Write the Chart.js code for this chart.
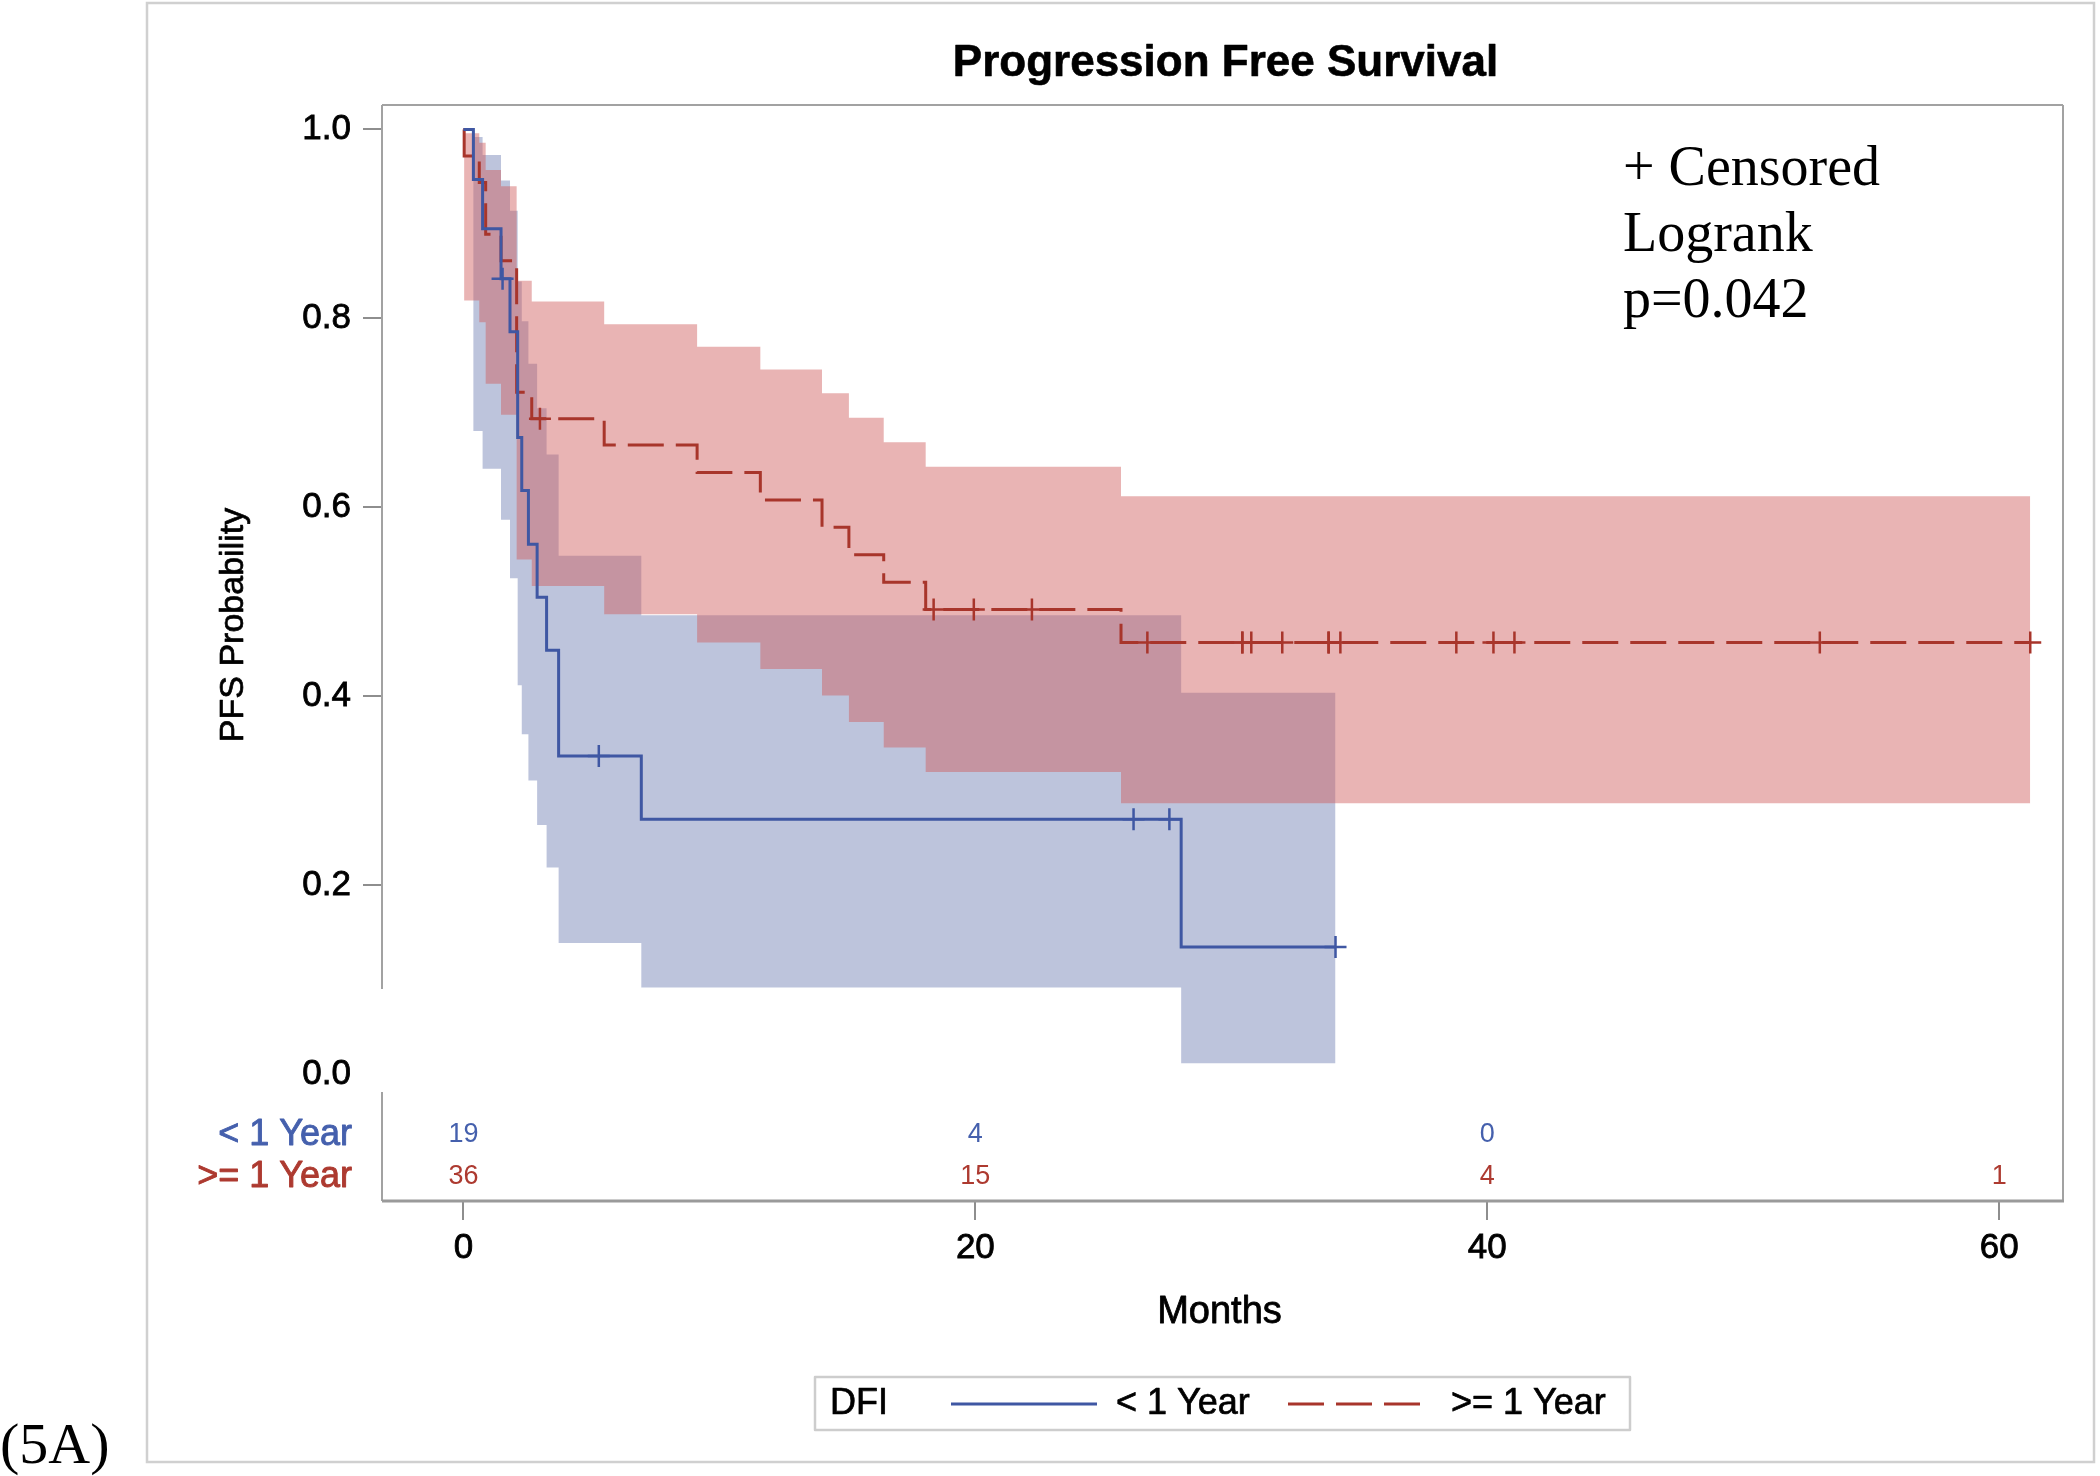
<!DOCTYPE html>
<html>
<head>
<meta charset="utf-8">
<script src="https://cdn.jsdelivr.net/npm/chart.js@4.4.1/dist/chart.umd.min.js"></script>
<style>
  html, body { margin: 0; padding: 0; background: #ffffff; }
  canvas { display: block; }
</style>
</head>
<body>
<canvas id="c" width="2100" height="1476"></canvas>
<script>
// ---------------- data ----------------
const chartTitle = 'Progression Free Survival';
const xTitle = 'Months';
const yTitle = 'PFS Probability';
const legendTitle = 'DFI';
const groups = ['< 1 Year', '>= 1 Year'];
const xTicks = [0, 20, 40, 60];
const yTicks = [0, 0.2, 0.4, 0.6, 0.8, 1.0];
const noteLines = ['+ Censored', 'Logrank', 'p=0.042'];
const panelTag = '(5A)';

// DFI < 1 Year : Kaplan-Meier steps and confidence band
const lt1Time  = [0, 0.39, 0.75, 1.47, 1.82, 2.12, 2.28, 2.54, 2.88, 3.25, 3.72, 6.95, 28.04, 34.07];
const lt1Surv  = [1, 0.947, 0.895, 0.842, 0.786, 0.674, 0.618, 0.561, 0.505, 0.449, 0.337, 0.270, 0.135, 0.135];
const lt1Upper = [1, 0.992, 0.973, 0.946, 0.914, 0.839, 0.797, 0.752, 0.705, 0.656, 0.549, 0.486, 0.404, 0.404];
const lt1Lower = [1, 0.681, 0.641, 0.587, 0.525, 0.412, 0.360, 0.311, 0.264, 0.219, 0.139, 0.092, 0.012, 0.012];
const lt1CensorTime = [1.53, 5.29, 26.18, 27.58, 34.07];
const lt1CensorSurv = [0.842, 0.337, 0.270, 0.270, 0.135];

// DFI >= 1 Year
const ge1Time  = [0, 0.03, 0.62, 0.87, 1.47, 2.08, 2.67, 5.50, 9.13, 11.60, 14.01, 15.06, 16.42, 18.06, 25.69, 61.21];
const ge1Surv  = [1, 0.972, 0.944, 0.889, 0.861, 0.722, 0.694, 0.666, 0.637, 0.608, 0.579, 0.550, 0.521, 0.492, 0.457, 0.457];
const ge1Upper = [1, 0.996, 0.986, 0.957, 0.940, 0.840, 0.818, 0.794, 0.770, 0.746, 0.721, 0.695, 0.669, 0.643, 0.612, 0.612];
const ge1Lower = [1, 0.819, 0.796, 0.731, 0.698, 0.545, 0.517, 0.487, 0.457, 0.429, 0.401, 0.373, 0.346, 0.320, 0.287, 0.287];
const ge1CensorTime = [2.99, 18.37, 19.94, 22.21, 26.72, 30.43, 30.43, 30.78, 31.99, 33.80, 33.80, 34.26, 38.79, 40.24, 41.06, 52.99, 61.21];
const ge1CensorSurv = [0.694, 0.492, 0.492, 0.492, 0.457, 0.457, 0.457, 0.457, 0.457, 0.457, 0.457, 0.457, 0.457, 0.457, 0.457, 0.457, 0.457];

// Number at risk
const riskTimes = [0, 20, 40, 60];
const riskLt1 = [19, 4, 0, null];
const riskGe1 = [36, 15, 4, 1];

// ---------------- styles ----------------
const SANS = '"Liberation Sans", Arial, sans-serif';
const SERIF = '"Liberation Serif", "Times New Roman", serif';
const BLUE = '#3f57a3';
const RED = '#a8352b';
const BLUE_TXT = '#4560ad';
const RED_TXT = '#ad3a30';
const BLUE_FILL = 'rgba(111,126,179,0.46)';
const RED_FILL = 'rgba(208,91,91,0.46)';
const AXIS_GRAY = '#8e8e8e';
const RED_DASH = [36, 12];

const pts = (ts, vs) => ts.map((t, i) => ({ x: t, y: vs[i] }));

const X_MIN = -3.18, X_MAX = 62.49;
const Y_MIN = -0.1339, Y_MAX = 1.0259;

// text with a slight stroke to match the heavier rendering of the original
function heavyText(ctx, s, x, y, color, w) {
  ctx.fillStyle = color;
  ctx.fillText(s, x, y);
  ctx.strokeStyle = color;
  ctx.lineWidth = w;
  ctx.lineJoin = 'round';
  ctx.strokeText(s, x, y);
}

const decor = {
  id: 'decor',
  afterDraw(chart) {
    const { ctx, chartArea: a, scales: { x, y } } = chart;
    ctx.save();
    // outer frame
    ctx.strokeStyle = '#d0d0d0';
    ctx.lineWidth = 2.5;
    ctx.strokeRect(147, 3, 2094 - 147, 1462 - 3);

    // plot frame (y axis line has a gap above the at-risk table)
    ctx.strokeStyle = '#a2a2a2';
    ctx.lineWidth = 2;
    ctx.beginPath();
    ctx.moveTo(a.left, a.top); ctx.lineTo(a.right, a.top);
    ctx.moveTo(a.right, a.top); ctx.lineTo(a.right, a.bottom);
    ctx.moveTo(a.left, a.top); ctx.lineTo(a.left, a.bottom - 212);
    ctx.moveTo(a.left, a.bottom - 109); ctx.lineTo(a.left, a.bottom);
    ctx.stroke();
    ctx.strokeStyle = '#9a9a9a';
    ctx.lineWidth = 3;
    ctx.beginPath();
    ctx.moveTo(a.left, a.bottom); ctx.lineTo(a.right + 1, a.bottom);
    ctx.stroke();

    // title
    ctx.textAlign = 'center';
    ctx.textBaseline = 'alphabetic';
    ctx.font = 'bold 44px ' + SANS;
    heavyText(ctx, chartTitle, (a.left + a.right) / 2 + 3, 76, '#000', 0.6);

    // axis titles
    ctx.font = '38px ' + SANS;
    ctx.textBaseline = 'middle';
    heavyText(ctx, xTitle, (a.left + a.right) / 2 - 3, 1313, '#000', 0.8);
    ctx.save();
    ctx.translate(234, 625);
    ctx.rotate(-Math.PI / 2);
    ctx.font = '34px ' + SANS;
    heavyText(ctx, yTitle, 0, 0, '#000', 0.7);
    ctx.restore();

    // at-risk table
    const rowY = [a.bottom - 66, a.bottom - 24];
    const rowVals = [riskLt1, riskGe1];
    const rowCol = [BLUE_TXT, RED_TXT];
    for (let r = 0; r < 2; r++) {
      ctx.font = '36px ' + SANS;
      ctx.textAlign = 'right';
      heavyText(ctx, groups[r], a.left - 30, rowY[r], rowCol[r], 0.9);
      ctx.font = '27px ' + SANS;
      ctx.textAlign = 'center';
      ctx.fillStyle = rowCol[r];
      riskTimes.forEach((t, i) => {
        const v = rowVals[r][i];
        if (v !== null && v !== undefined) ctx.fillText(String(v), x.getPixelForValue(t), rowY[r]);
      });
    }

    // annotation
    ctx.fillStyle = '#000';
    ctx.font = '56px ' + SERIF;
    ctx.textAlign = 'left';
    ctx.textBaseline = 'alphabetic';
    noteLines.forEach((s, i) => ctx.fillText(s, 1623, 185 + i * 66));

    // panel tag
    ctx.font = '58px ' + SERIF;
    ctx.fillText(panelTag, 0, 1463);

    // legend
    ctx.strokeStyle = '#cdcdcd';
    ctx.lineWidth = 2.5;
    ctx.strokeRect(815, 1377, 815, 53);
    const ly = 1404;
    ctx.font = '36px ' + SANS;
    ctx.textBaseline = 'middle';
    heavyText(ctx, legendTitle, 830, ly, '#000', 0.7);
    ctx.lineWidth = 3;
    ctx.strokeStyle = BLUE;
    ctx.beginPath(); ctx.moveTo(951, ly); ctx.lineTo(1097, ly); ctx.stroke();
    heavyText(ctx, groups[0], 1116, ly, '#000', 0.7);
    ctx.lineWidth = 3;
    ctx.strokeStyle = RED;
    ctx.setLineDash(RED_DASH);
    ctx.beginPath(); ctx.moveTo(1288, ly); ctx.lineTo(1421, ly); ctx.stroke();
    ctx.setLineDash([]);
    heavyText(ctx, groups[1], 1451, ly, '#000', 0.7);
    ctx.restore();
  }
};

const censorDs = (data, color) => ({
  data, showLine: false, pointStyle: 'cross', pointRadius: 11, pointHoverRadius: 11,
  pointBorderColor: color, pointBorderWidth: 2.5, borderColor: color, backgroundColor: color
});
const bandDs = (data, fill, color) => ({
  data, stepped: 'before', borderWidth: 0, borderColor: 'rgba(0,0,0,0)', pointRadius: 0,
  fill, backgroundColor: color
});

new Chart(document.getElementById('c'), {
  type: 'line',
  data: {
    datasets: [
      censorDs(pts(lt1CensorTime, lt1CensorSurv), BLUE),
      censorDs(pts(ge1CensorTime, ge1CensorSurv), RED),
      { label: groups[0], data: pts(lt1Time, lt1Surv), stepped: 'before', borderColor: BLUE, borderWidth: 3, pointRadius: 0, fill: false },
      { label: groups[1], data: pts(ge1Time, ge1Surv), stepped: 'before', borderColor: RED, borderWidth: 3, borderDash: RED_DASH, pointRadius: 0, fill: false },
      bandDs(pts(ge1Time, ge1Upper), '+1', RED_FILL),
      bandDs(pts(ge1Time, ge1Lower), false, RED_FILL),
      bandDs(pts(lt1Time, lt1Upper), '+1', BLUE_FILL),
      bandDs(pts(lt1Time, lt1Lower), false, BLUE_FILL)
    ]
  },
  options: {
    responsive: false,
    animation: false,
    layout: { padding: { top: 105, right: 37, left: 0, bottom: 0 } },
    plugins: { legend: { display: false }, tooltip: { enabled: false }, title: { display: false } },
    scales: {
      x: {
        type: 'linear', min: X_MIN, max: X_MAX,
        afterBuildTicks: s => { s.ticks = xTicks.map(v => ({ value: v })); },
        afterFit: s => { s.height = 275; },
        border: { display: false },
        grid: { drawOnChartArea: false, drawTicks: true, tickLength: 19, color: AXIS_GRAY, lineWidth: 2 },
        ticks: { font: { family: SANS, size: 35 }, color: '#000', padding: 7, maxRotation: 0, autoSkip: false,
                 textStrokeColor: '#000', textStrokeWidth: 0.8 }
      },
      y: {
        type: 'linear', min: Y_MIN, max: Y_MAX,
        afterBuildTicks: s => { s.ticks = yTicks.map(v => ({ value: v })); },
        afterFit: s => { s.width = 382; },
        border: { display: false },
        grid: {
          drawOnChartArea: false, drawTicks: true, tickLength: 19, lineWidth: 2,
          color: c => (c.tick && c.tick.value === 0) ? 'rgba(0,0,0,0)' : AXIS_GRAY
        },
        ticks: { font: { family: SANS, size: 35 }, color: '#000', padding: 12, callback: v => Number(v).toFixed(1),
                 textStrokeColor: '#000', textStrokeWidth: 0.8 }
      }
    }
  },
  plugins: [decor]
});
</script>
</body>
</html>
